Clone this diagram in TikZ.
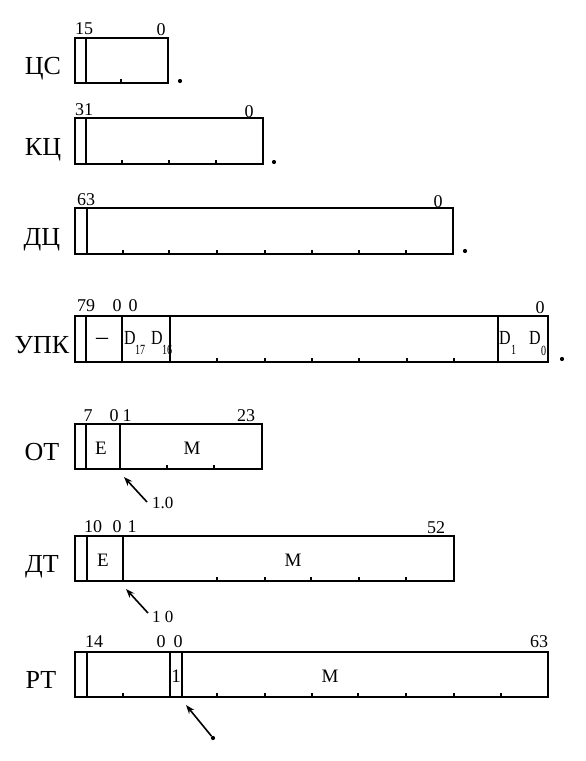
\documentclass[tikz,border=0pt]{standalone}
\usepackage{fontspec}
\setmainfont{Liberation Serif}
\usetikzlibrary{arrows.meta}
\newcommand\condD{\scalebox{0.8}[1]{D}}
\newcommand\condsub[1]{\scalebox{0.72}[1]{#1}}
\begin{document}
\begin{tikzpicture}[x=1pt,y=-1pt,
  reg/.style={line width=1.6pt},
  sepline/.style={line width=1.4pt},
  tickline/.style={line width=1.2pt},
  regname/.style={font=\fontsize{26}{26}\selectfont, anchor=base, inner sep=0pt},
  num/.style={font=\fontsize{18}{18}\selectfont, anchor=base, inner sep=0pt},
  fld/.style={font=\fontsize{19}{19}\selectfont, anchor=base, inner sep=0pt},
  dlet/.style={font=\fontsize{20}{20}\selectfont, anchor=base west, inner sep=0pt},
  dsub/.style={font=\fontsize{14}{14}\selectfont, anchor=base west, inner sep=0pt},
  dotmark/.style={circle, fill, inner sep=0pt, minimum size=4.2pt},
  ptr/.style={line width=1.6pt, -{Stealth[length=9pt,width=6.5pt]}},
  ptrlbl/.style={font=\fontsize{17}{17}\selectfont, anchor=base west, inner sep=0pt}
]
\useasboundingbox (0,0) rectangle (586,761);

% ---------- ЦС ----------
\node[regname] (ncs) at (43,74) {ЦС};
\draw[reg] (75,38) rectangle (168,83);
\draw[sepline] (86,38) -- (86,83);
\draw[tickline] (121,83) -- (121,79);
\node[num] (cs15) at (84,34) {15};
\node[num] (cs0) at (161,35) {0};
\node[dotmark] (csdot) at (180,81) {};

% ---------- КЦ ----------
\node[regname] (nkc) at (43,155) {КЦ};
\draw[reg] (75,118) rectangle (263,164);
\draw[sepline] (86,118) -- (86,164);
\foreach \x in {122,169,216} \draw[tickline] (\x,164) -- (\x,160);
\node[num] (kc31) at (84,115) {31};
\node[num] (kc0) at (249,117) {0};
\node[dotmark] (kcdot) at (274,162) {};

% ---------- ДЦ ----------
\node[regname] (ndc) at (42,245) {ДЦ};
\draw[reg] (75,208) rectangle (453,254);
\draw[sepline] (87,208) -- (87,254);
\foreach \x in {123,169,217,265,312,359,406} \draw[tickline] (\x,254) -- (\x,250);
\node[num] (dc63) at (86,205) {63};
\node[num] (dc0) at (438,207) {0};
\node[dotmark] (dcdot) at (465,251) {};

% ---------- УПК ----------
\node[regname] (nupk) at (42,353) {УПК};
\draw[reg] (75,316) rectangle (548,362);
\draw[sepline] (86,316) -- (86,362);
\draw[sepline] (122,316) -- (122,362);
\draw[sepline] (170,316) -- (170,362);
\draw[sepline] (498,316) -- (498,362);
\foreach \x in {217,265,312,359,407,454} \draw[tickline] (\x,362) -- (\x,358);
\node[num] (upk79) at (86,311) {79};
\node[num] (upk0a) at (117,311) {0};
\node[num] (upk0b) at (133,311) {0};
\node[num] (upk0c) at (540,313) {0};
\node[fld, font=\fontsize{24}{24}\selectfont] (upkdash) at (102,344) {–};
\node[dlet] (d17) at (124,344) {\condD};
\node[dsub] (d17s) at (135,354) {\condsub{17}};
\node[dlet] (d16) at (151,344) {\condD};
\node[dsub] (d16s) at (162,354) {\condsub{16}};
\node[dlet] (d1) at (499,344) {\condD};
\node[dsub] (d1s) at (511,354) {\condsub{1}};
\node[dlet] (d0) at (529,344) {\condD};
\node[dsub] (d0s) at (541,355) {\condsub{0}};
\node[dotmark] (upkdot) at (562,359) {};

% ---------- ОТ ----------
\node[regname] (not) at (42,460) {ОТ};
\draw[reg] (75,424) rectangle (262,469);
\draw[sepline] (86,424) -- (86,469);
\draw[sepline] (120,424) -- (120,469);
\foreach \x in {167,214} \draw[tickline] (\x,469) -- (\x,465);
\node[num] (ot7) at (88,421) {7};
\node[num] (ot0) at (114,421) {0};
\node[num] (ot1) at (127,421) {1};
\node[num] (ot23) at (246,421) {23};
\node[fld] (ote) at (101,454) {E};
\node[fld] (otm) at (192,454) {M};
\coordinate (othead) at (124,477);
\coordinate (ottail) at (147,502);
\draw[ptr] (ottail) -- (othead);
\node[ptrlbl] (otl) at (152,508) {1.0};

% ---------- ДТ ----------
\node[regname] (ndt) at (42,572) {ДТ};
\draw[reg] (75,536) rectangle (454,581);
\draw[sepline] (87,536) -- (87,581);
\draw[sepline] (123,536) -- (123,581);
\foreach \x in {217,265,311,359,406} \draw[tickline] (\x,581) -- (\x,577);
\node[num] (dt10) at (93,532) {10};
\node[num] (dt0) at (117,532) {0};
\node[num] (dt1) at (132,532) {1};
\node[num] (dt52) at (436,533) {52};
\node[fld] (dte) at (103,566) {E};
\node[fld] (dtm) at (293,566) {M};
\coordinate (dthead) at (126,589);
\coordinate (dttail) at (148,613);
\draw[ptr] (dttail) -- (dthead);
\node[ptrlbl] (dtl) at (152,622) {1 0};

% ---------- РТ ----------
\node[regname] (nrt) at (41,688) {РТ};
\draw[reg] (75,652) rectangle (548,697);
\draw[sepline] (87,652) -- (87,697);
\draw[sepline] (170,652) -- (170,697);
\draw[sepline] (182,652) -- (182,697);
\foreach \x in {123,217,265,312,358,406,454,501} \draw[tickline] (\x,697) -- (\x,693);
\node[num] (rt14) at (94,647) {14};
\node[num] (rt0a) at (161,647) {0};
\node[num] (rt0b) at (178,647) {0};
\node[num] (rt63) at (539,647) {63};
\node[fld] (rt1) at (176,682) {1};
\node[fld] (rtm) at (330,682) {M};
\coordinate (rthead) at (186,705);
\node[dotmark] (rtdot) at (213,738) {};
\draw[ptr] (rtdot) -- (rthead);
\end{tikzpicture}
\end{document}
